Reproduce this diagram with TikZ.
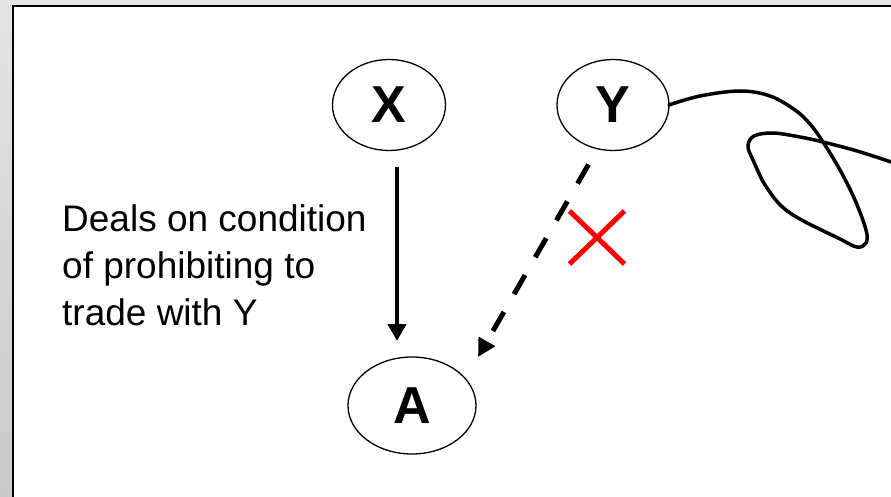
\documentclass[tikz,border=0pt]{standalone}
\usepackage{fontspec}
\setmainfont{Liberation Sans}
\usetikzlibrary{arrows.meta,shapes.geometric,shapes.misc,calc}
\definecolor{paneltop}{HTML}{E4E4E4}
\definecolor{panelbottom}{HTML}{CACACA}
\tikzset{
  party/.style={ellipse, draw, line width=1.3pt, inner sep=0pt, outer sep=0pt,
    font=\fontsize{52}{60}\selectfont\bfseries},
  dealtext/.style={anchor=base west, inner sep=0pt, font=\fontsize{37}{44}\selectfont},
  solidlink/.style={line width=4.5pt, -{Triangle[width=18pt,length=17pt]}},
  blockedlink/.style={line width=5pt, dash pattern=on 22pt off 20.5pt,
    -{Triangle[width=18pt,length=18pt]}},
  crossmark/.style={cross out, draw=red, line width=5pt, minimum width=50pt,
    minimum height=48pt, inner sep=0pt},
  tangle/.style={line width=3.5pt, line join=round, line cap=round},
}
\begin{document}
\begin{tikzpicture}[x=1pt,y=-1pt]
  % grey window background and white slide with its black edge
  \shade[top color=paneltop, bottom color=panelbottom] (0,0) rectangle (891,497);
  \useasboundingbox (0,0) rectangle (891,497);
  \fill[white] (13,6) rectangle (891,497);
  \draw[line width=2.2pt] (13,497) -- (13,6) -- (891,6);

  % parties
  \node[party, minimum width=113pt, minimum height=91pt] (X) at (389,105) {X};
  \node[party, minimum width=112pt, minimum height=91pt] (Y) at (613,105) {Y};
  \node[party, minimum width=128pt, minimum height=97pt] (A) at (412,405.5) {A};

  % condition text
  \node[dealtext] (l1) at (62,231.7) {Deals on condition};
  \node[dealtext] (l2) at (62,278.3) {of prohibiting to};
  \node[dealtext] (l3) at (62,325) {trade with Y};

  % dealings
  \draw[solidlink] ($(X.south)+(8,16.5)$) -- ($(A.north)+(-15,-16)$);
  \draw[blockedlink] ($(Y.south)+(-24.5,14)$) -- ($(A.center)+(66,-48.5)$);
  \node[crossmark] (stop) at (597,237.5) {};

  % tangled line leaving Y
  \begin{scope}
    \clip (0,0) rectangle (891,497);
    \draw[tangle] plot[smooth, tension=0.6] coordinates {
      (Y.east) (700,96) (740,91) (770,96) (795,110) (810,124) (823,142)
      (840,170) (855,200) (866,230) (866,243) (857,247) (840,239)
      (790,213) (767,188) (753,160) (748,146) (754,136) (773,133)
      (800,137) (823,142) (857,151) (891,162) (910,169)};
  \end{scope}
\end{tikzpicture}
\end{document}
